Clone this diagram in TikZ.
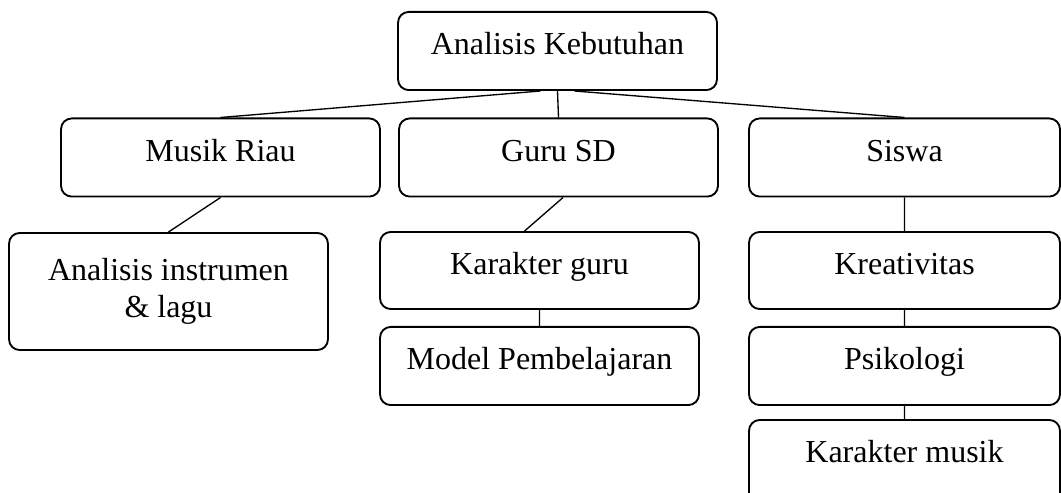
\documentclass[tikz,border=0pt]{standalone}
\usepackage{fontspec}
\setmainfont{Liberation Serif}

\begin{document}
\begin{tikzpicture}[
        % Environment Config (1 unit = 1 pixel of the page)
        x=0.375pt, y=-0.375pt,
        font=\fontsize{12}{14}\selectfont,
        Frame/.style={% Style for the rounded boxes
          draw,
          rounded corners=4pt,
          line width=0.7pt,
          minimum width=119.6pt,
          minimum height=29.3pt
        },
        Box/.style={% Box with one line of text set a bit high
          Frame,
          text height=8pt,
          text depth=5pt
        },
        Link/.style={% Style for the connectors
          line width=0.5pt
        }
      ]

      \useasboundingbox (0,0) rectangle (1061,493);
      \clip (0,0) rectangle (1061,493);

      % Put the boxes in position
      %===Root===
      \node[Box] (KB) at (557.5,51) {Analisis Kebutuhan};

      %===Second row===
      \node[Box] (MR) at (220.5,157.5) {Musik Riau};
      \node[Box] (GS) at (558.5,157.5) {Guru SD};
      \node[Box, minimum width=116.6pt] (SW) at (904.5,157.5) {Siswa};

      %===Branch: Musik Riau===
      \node[Frame, align=center, minimum height=43.9pt] (AI) at (168.5,291.5)
          {Analisis instrumen\\ \& lagu};

      %===Branch: Guru SD===
      \node[Box, minimum height=28.9pt] (KG) at (539.5,270.5) {Karakter guru};
      \node[Box] (MP) at (539.5,366) {Model Pembelajaran};

      %===Branch: Siswa===
      \node[Box, minimum width=116.6pt, minimum height=28.9pt] (KR) at (904.5,270.5) {Kreativitas};
      \node[Box, minimum width=116.6pt] (PS) at (904.5,366) {Psikologi};
      % runs past the bottom edge of the page
      \node[Box, minimum width=116.6pt, minimum height=33pt, text depth=9pt] (KM) at (904.5,464) {Karakter musik};

      % Draw the connectors
      \draw[Link]
      (KB.247) %get a point on the bottom edge, left of centre
          -- (MR.north)
      (KB.south)
          -- (GS.north)
      (KB.293)
          -- (SW.north);

      \draw[Link]
      (MR.south)
          -- (AI.north)
      ([xshift=1.7pt]GS.south)
          -- ([xshift=-5.6pt]KG.north)
      (KG.south)
          -- (MP.north)
      (SW.south)
          -- (KR.north)
      (KR.south)
          -- (PS.north)
      (PS.south)
          -- (KM.north);

      \end{tikzpicture}
\end{document}
